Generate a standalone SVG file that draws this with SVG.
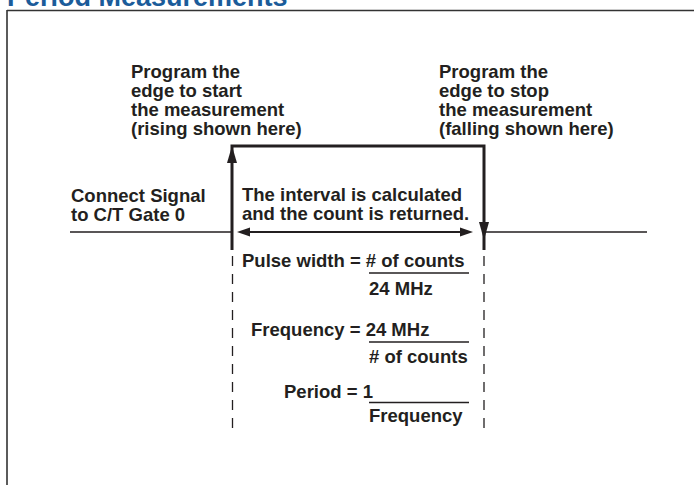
<svg xmlns="http://www.w3.org/2000/svg" width="694" height="485" viewBox="0 0 694 485">
<style>
.t{font-family:"Liberation Sans",Arial,Helvetica,sans-serif;font-weight:bold;font-size:18.5px;fill:#231f20}
.title{font-family:"Liberation Sans",Arial,Helvetica,sans-serif;font-weight:bold;font-size:27px;fill:#1b5c9a}
.thin{stroke:#231f20;stroke-width:1.3;fill:none}
.thick{stroke:#231f20;stroke-width:3;fill:none}
.dash{stroke:#231f20;stroke-width:1.3;fill:none;stroke-dasharray:10 8}
.frac{stroke:#231f20;stroke-width:1.6}
.head{fill:#231f20}
</style>
<rect width="694" height="485" fill="#fff"/>
<text class="title" x="7" y="5.5">Period Measurements</text>
<g id="frame">
<path d="M7 10.5 H694 M7 10 V485" stroke="#333" stroke-width="1.6" fill="none"/>
</g>
<g id="connectors">
<path class="thin" d="M70 232 H232 M484 232 H647"/>
<path class="thick" d="M232 250 V146 H484 V250"/>
<polygon class="head" points="232,146 227,163 237,163"/>
<polygon class="head" points="484,240 479,222 489,222"/>
<path d="M247 232 H463" stroke="#231f20" stroke-width="2"/>
<polygon class="head" points="237,232 250,227.5 250,236.5"/>
<polygon class="head" points="473,232 460,227.5 460,236.5"/>
<path class="dash" d="M232.5 256 V430 M484 256 V430"/>
</g>
<g id="start-label">
<text class="t"><tspan x="131" y="78">Program the</tspan><tspan x="131" y="97">edge to start</tspan><tspan x="131" y="116">the measurement</tspan><tspan x="131" y="135">(rising shown here)</tspan></text>
</g>
<g id="stop-label">
<text class="t"><tspan x="439" y="78">Program the</tspan><tspan x="439" y="97">edge to stop</tspan><tspan x="439" y="116">the measurement</tspan><tspan x="439" y="135">(falling shown here)</tspan></text>
</g>
<g id="signal-label">
<text class="t"><tspan x="71" y="202">Connect Signal</tspan><tspan x="71" y="221">to C/T Gate 0</tspan></text>
</g>
<g id="interval-label">
<text class="t"><tspan x="242" y="201">The interval is calculated</tspan><tspan x="242" y="220">and the count is returned.</tspan></text>
</g>
<g id="pulse-width">
<text class="t" x="242" y="267">Pulse width = # of counts</text>
<line class="frac" x1="369" y1="273" x2="469" y2="273"/>
<text class="t" x="369" y="295">24 MHz</text>
</g>
<g id="frequency">
<text class="t" x="251" y="336">Frequency = 24 MHz</text>
<line class="frac" x1="369" y1="342" x2="469" y2="342"/>
<text class="t" x="369" y="363"># of counts</text>
</g>
<g id="period">
<text class="t" x="284" y="398">Period = 1</text>
<line class="frac" x1="369" y1="402.5" x2="469" y2="402.5"/>
<text class="t" x="369" y="422">Frequency</text>
</g>
</svg>
